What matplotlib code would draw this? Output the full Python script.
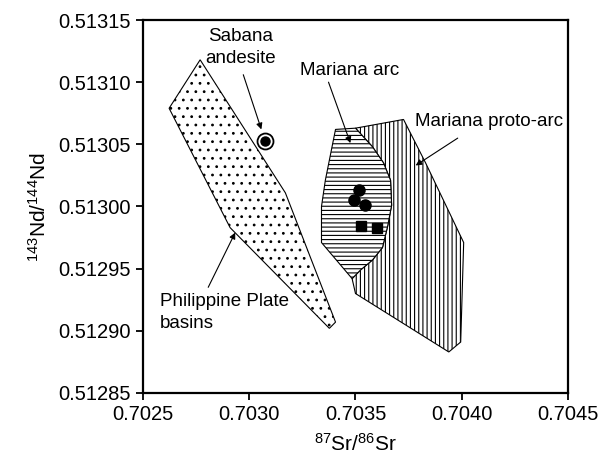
import matplotlib
matplotlib.use("Agg")
import matplotlib.pyplot as plt
from matplotlib.patches import Polygon

plt.rcParams['font.family'] = ['Liberation Sans', 'DejaVu Sans']
plt.rcParams['mathtext.fontset'] = 'custom'
plt.rcParams['mathtext.rm'] = 'Liberation Sans'
plt.rcParams['mathtext.it'] = 'Liberation Sans'
plt.rcParams['mathtext.bf'] = 'Liberation Sans'
plt.rcParams['hatch.linewidth'] = 0.8

# Field outlines (87Sr/86Sr, 143Nd/144Nd)
philippine_sr = [0.702769, 0.703170, 0.703406, 0.703377, 0.702910, 0.702623]
philippine_nd = [0.513118, 0.513011, 0.512907, 0.512902, 0.512983, 0.513079]

arc_sr = [0.703406, 0.703500, 0.703580, 0.703632, 0.703665, 0.703670, 0.703651,
          0.703627, 0.703580, 0.703524, 0.703484, 0.703340, 0.703340, 0.703358]
arc_nd = [0.513062, 0.513063, 0.513048, 0.513035, 0.513021, 0.513001, 0.512984,
          0.512967, 0.512957, 0.512949, 0.512942, 0.512971, 0.513000, 0.513021]

proto_sr = [0.703500, 0.703726, 0.703830, 0.704009, 0.703995, 0.703939, 0.703500,
            0.703484, 0.703524, 0.703580, 0.703627, 0.703651, 0.703670, 0.703665,
            0.703632, 0.703580]
proto_nd = [0.513063, 0.513070, 0.513035, 0.512971, 0.512891, 0.512883, 0.512930,
            0.512942, 0.512949, 0.512957, 0.512967, 0.512984, 0.513001, 0.513021,
            0.513035, 0.513048]

# Sample points
circle_sr = [0.703516, 0.703495, 0.703544]
circle_nd = [0.513013, 0.513005, 0.513001]
square_sr = [0.703528, 0.703602]
square_nd = [0.512984, 0.512983]
sabana_sr = [0.703075]
sabana_nd = [0.513053]

xticks = [0.7025, 0.7030, 0.7035, 0.7040, 0.7045]
yticks = [0.51285, 0.51290, 0.51295, 0.51300, 0.51305, 0.51310, 0.51315]

fig = plt.figure(figsize=(6.03, 4.63), dpi=100)
ax = fig.add_axes([0.2371, 0.1512, 0.7049, 0.8056])

ax.add_patch(Polygon(list(zip(philippine_sr, philippine_nd)), closed=True,
                     facecolor='white', edgecolor='black', lw=0.8, hatch='..'))
ax.add_patch(Polygon(list(zip(proto_sr, proto_nd)), closed=True,
                     facecolor='white', edgecolor='black', lw=0.8, hatch='||||'))
ax.add_patch(Polygon(list(zip(arc_sr, arc_nd)), closed=True,
                     facecolor='white', edgecolor='black', lw=0.8, hatch='----'))

ax.plot(circle_sr, circle_nd, 'o', color='black', ms=8, zorder=5)
ax.plot(square_sr, square_nd, 's', color='black', ms=7.5, zorder=5)
ax.plot(sabana_sr, sabana_nd, 'o', mfc='white', mec='black', mew=1.3, ms=11.5, zorder=5)
ax.plot(sabana_sr, sabana_nd, 'o', color='black', ms=6.5, zorder=6)

arrow = dict(arrowstyle='-|>', color='black', lw=0.8, mutation_scale=9,
             shrinkA=0, shrinkB=0)
fs = 13.5

# Field and sample labels
ax.text(0.702958, 0.513128, 'Sabana\nandesite', ha='center', va='center',
        fontsize=fs, linespacing=1.4)
ax.annotate('', xy=(0.703057, 0.513062), xytext=(0.702972, 0.513106), arrowprops=arrow)

ax.text(0.703241, 0.513109, 'Mariana arc', ha='left', va='center', fontsize=fs)
ax.annotate('', xy=(0.703476, 0.513051), xytext=(0.703373, 0.513100), arrowprops=arrow)

ax.text(0.703778, 0.513068, 'Mariana proto-arc', ha='left', va='center', fontsize=fs)
ax.annotate('', xy=(0.703783, 0.513033), xytext=(0.703981, 0.513055), arrowprops=arrow)

ax.text(0.702580, 0.512915, 'Philippine Plate\nbasins', ha='left', va='center',
        fontsize=fs, linespacing=1.4)
ax.annotate('', xy=(0.702934, 0.512979), xytext=(0.702807, 0.512935), arrowprops=arrow)

ax.set_xlim(0.7025, 0.7045)
ax.set_ylim(0.51285, 0.51315)
ax.set_xticks(xticks)
ax.set_xticklabels([f'{v:.4f}' for v in xticks])
ax.set_yticks(yticks)
ax.set_yticklabels([f'{v:.5f}' for v in yticks])
ax.tick_params(direction='out', length=5, width=1.3, labelsize=14.5, pad=4)
for s in ax.spines.values():
    s.set_linewidth(1.6)

ax.set_xlabel(r'$^{87}$Sr/$^{86}$Sr', fontsize=15, labelpad=6)
ax.set_ylabel(r'$^{143}$Nd/$^{144}$Nd', fontsize=15, labelpad=6)

fig.savefig('out.png', dpi=100)
